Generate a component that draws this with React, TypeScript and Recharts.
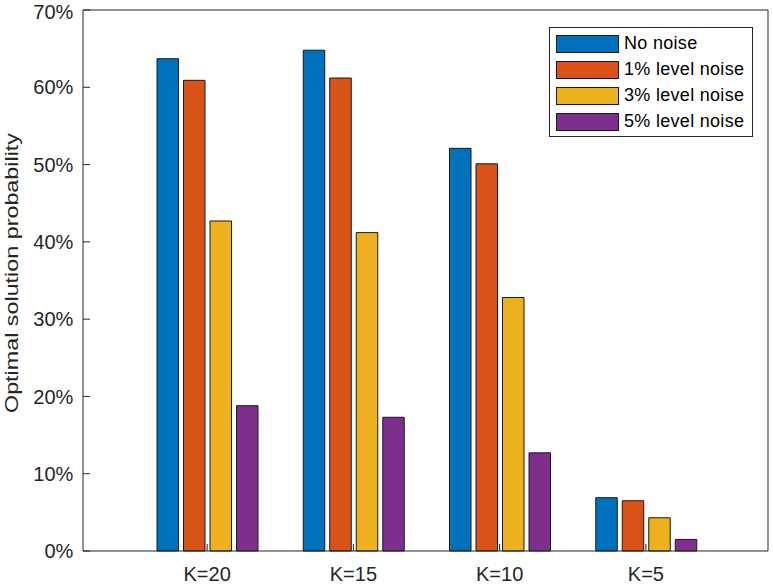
import { BarChart, Bar, XAxis, YAxis, Legend, Label } from "recharts";

const categories = ["K=20", "K=15", "K=10", "K=5"];
const noNoise = [63.7, 64.8, 52.1, 6.9];
const noise1 = [60.9, 61.2, 50.1, 6.5];
const noise3 = [42.7, 41.2, 32.8, 4.3];
const noise5 = [18.8, 17.3, 12.7, 1.5];
const yTicks = [0, 10, 20, 30, 40, 50, 60, 70];

const series = [
  { key: "n0", name: "No noise", color: "#0072BD", values: noNoise },
  { key: "n1", name: "1% level noise", color: "#D95319", values: noise1 },
  { key: "n3", name: "3% level noise", color: "#EDB120", values: noise3 },
  { key: "n5", name: "5% level noise", color: "#7E2F8E", values: noise5 },
];

const data = categories.map((k, i) => {
  const row: Record<string, string | number> = { k };
  series.forEach((s) => (row[s.key] = s.values[i]));
  return row;
});

const FONT = "'Liberation Sans', Arial, Helvetica, sans-serif";
const INK = "#262626";
const tickStyle = { fill: INK, fontSize: 20, fontFamily: FONT };

function LegendBox() {
  return (
    <div
      style={{
        position: "relative",
        width: 204,
        height: 110,
        boxSizing: "border-box",
        border: `1px solid ${INK}`,
        background: "#fff",
        fontFamily: FONT,
        fontSize: 18,
        letterSpacing: 0.3,
        color: "#000",
      }}
    >
      {series.map((s, i) => (
        <div
          key={s.key}
          style={{
            position: "absolute",
            left: 6,
            top: 6 + i * 26,
            height: 19,
            display: "flex",
            alignItems: "center",
            whiteSpace: "nowrap",
          }}
        >
          <span
            style={{
              display: "inline-block",
              width: 63,
              height: 18,
              boxSizing: "border-box",
              border: "1px solid #1a1a1a",
              background: s.color,
              marginRight: 5,
            }}
          />
          {s.name}
        </div>
      ))}
    </div>
  );
}

function YLabel({ viewBox }: { viewBox?: { x: number; y: number; width: number; height: number } }) {
  if (!viewBox) return null;
  const x = viewBox.x + 9.5;
  const y = viewBox.y + viewBox.height / 2 - 7.5;
  return (
    <text
      x={x}
      y={y}
      transform={`rotate(-90, ${x}, ${y})`}
      textAnchor="middle"
      fill={INK}
      fontSize={19}
      fontFamily={FONT}
      textLength={280}
      lengthAdjust="spacingAndGlyphs"
    >
      Optimal solution probability
    </text>
  );
}

export default function App() {
  return (
    <div style={{ position: "absolute", left: 0, top: 0, background: "#fff" }}>
      <BarChart
        width={773}
        height={584}
        data={data}
        margin={{ top: 0, right: 0, left: 8, bottom: 0 }}
        barSize={21.5}
        barGap={5}
      >
        <XAxis
          xAxisId="b"
          dataKey="k"
          height={33}
          padding={{ left: 51, right: 49 }}
          tickSize={-7}
          tickMargin={22.8}
          tick={tickStyle}
          axisLine={{ stroke: INK }}
          tickLine={{ stroke: INK }}
        />
        <XAxis
          xAxisId="t"
          dataKey="k"
          orientation="top"
          height={10}
          padding={{ left: 51, right: 49 }}
          tickSize={-7}
          tick={false}
          axisLine={{ stroke: INK }}
          tickLine={{ stroke: INK }}
        />
        <YAxis
          yAxisId="l"
          width={75}
          domain={[0, 70]}
          ticks={yTicks}
          tickFormatter={(v) => `${v}%`}
          tickSize={-7}
          tickMargin={16.7}
          tick={tickStyle}
          axisLine={{ stroke: INK }}
          tickLine={{ stroke: INK }}
        >
          <Label content={(p: any) => <YLabel viewBox={p.viewBox} />} />
        </YAxis>
        <YAxis
          yAxisId="r"
          orientation="right"
          width={5}
          domain={[0, 70]}
          ticks={yTicks}
          tickSize={-7}
          tick={false}
          axisLine={{ stroke: INK }}
          tickLine={{ stroke: INK }}
        />
        <Legend
          layout="horizontal"
          verticalAlign="middle"
          align="center"
          content={() => <LegendBox />}
          wrapperStyle={{ position: "absolute", left: 549, top: 27, width: 204, height: 110 }}
        />
        {series.map((s) => (
          <Bar
            key={s.key}
            xAxisId="b"
            yAxisId="l"
            dataKey={s.key}
            name={s.name}
            fill={s.color}
            stroke="#1a1a1a"
            strokeWidth={1}
            isAnimationActive={false}
          />
        ))}
      </BarChart>
    </div>
  );
}
